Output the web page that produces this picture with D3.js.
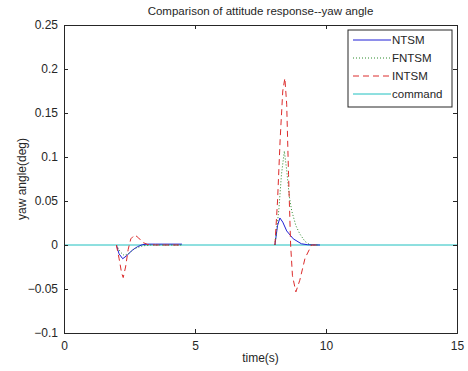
<!DOCTYPE html>
<html>
<head>
<meta charset="utf-8">
<script src="https://cdn.jsdelivr.net/npm/d3@7"></script>
<style>
  body { margin: 0; background: #fff; }
  text { font-family: Arial, "Liberation Sans", sans-serif; fill: #262626; }
</style>
</head>
<body>
<div id="chart"></div>
<script>
// series data (null = gap in series)
const ntsmTime   = [2.0, 2.1, 2.24, 2.4, 2.6, 2.8, 3.0, 3.2, 3.5, 4.5, null,
                    8.05, 8.15, 8.24, 8.35, 8.5, 8.75, 9.06, 9.3, 9.77];
const ntsmValues = [0, -0.010, -0.0156, -0.012, -0.006, -0.002, 0.0005, 0.001, 0.001, 0.001, null,
                    0, 0.022, 0.0307, 0.026, 0.016, 0.007, 0.0014, 0.0003, 0];

const fntsmTime   = [2.0, 2.15, 2.3, 2.5, 2.7, 3.0, 3.3, 4.5, null,
                     8.05, 8.2, 8.3, 8.41, 8.5, 8.6, 8.69, 8.85, 9.0, 9.2, 9.4, 9.7];
const fntsmValues = [0, -0.008, -0.012, -0.009, -0.004, -0.001, 0, 0, null,
                     0, 0.04, 0.08, 0.1068, 0.085, 0.055, 0.039, 0.022, 0.0126, 0.004, 0, 0];

const intsmTime   = [2.0, 2.1, 2.2, 2.26, 2.35, 2.45, 2.55, 2.7, 2.85, 3.0, 3.2, 3.5, 4.5, null,
                     8.05, 8.15, 8.25, 8.35, 8.43, 8.5, 8.57, 8.65, 8.72, 8.85, 9.0, 9.2, 9.45, 9.7];
const intsmValues = [0, -0.015, -0.032, -0.037, -0.025, -0.005, 0.007, 0.0115, 0.008, 0.003, 0.0005, 0, 0, null,
                     0, 0.05, 0.12, 0.175, 0.1896, 0.16, 0.08, 0, -0.035, -0.0533, -0.04, -0.015, 0, 0];

const commandTime   = [0, 15];
const commandValues = [0, 0];

const xTicks = [0, 5, 10, 15];
const yTicks = [-0.1, -0.05, 0, 0.05, 0.1, 0.15, 0.2, 0.25];
const legendNames = ['NTSM', 'FNTSM', 'INTSM', 'command'];

const sWidth = 468, sHeight = 371;
const margin = { top: 25, right: 11, bottom: 38, left: 64 };
const width = sWidth - margin.left - margin.right;
const height = sHeight - margin.top - margin.bottom;

const x = d3.scaleLinear().domain([0, 15]).range([0, width]);
const y = d3.scaleLinear().domain([-0.1, 0.25]).range([height, 0]);

const svg = d3.select('#chart').append('svg')
    .attr('width', sWidth)
    .attr('height', sHeight);
svg.append('rect').attr('width', sWidth).attr('height', sHeight).attr('fill', '#fff');

const g = svg.append('g')
    .attr('transform', 'translate(' + margin.left + ',' + margin.top + ')');

function zip(ts, vs) { return ts.map((t, i) => ({ t: t, v: vs[i] })); }

const series = [
  { name: 'NTSM', data: zip(ntsmTime, ntsmValues), color: '#1f1fd6', dash: null },
  { name: 'FNTSM', data: zip(fntsmTime, fntsmValues), color: '#2a8a2a', dash: '1,2' },
  { name: 'INTSM', data: zip(intsmTime, intsmValues), color: '#dc2c2c', dash: '6,4' },
  { name: 'command', data: zip(commandTime, commandValues), color: '#1fc0c0', dash: null }
];

const line = d3.line()
    .defined(d => d.t !== null && d.v !== null)
    .x(d => x(d.t))
    .y(d => y(d.v));

// clip to axes
g.append('clipPath').attr('id', 'clip')
  .append('rect').attr('width', width).attr('height', height);

const plot = g.append('g').attr('clip-path', 'url(#clip)');
// command first so the responses stay visible on it, as in the figure
[series[3], series[0], series[1], series[2]].forEach(s => {
  plot.append('path')
    .datum(s.data)
    .attr('d', line)
    .attr('fill', 'none')
    .attr('stroke', s.color)
    .attr('stroke-width', 1)
    .attr('stroke-dasharray', s.dash);
});

// axes with inward ticks on all sides
const tickSize = 4;
g.append('g')
  .attr('transform', 'translate(0,' + height + ')')
  .call(d3.axisBottom(x).tickValues(xTicks).tickSize(-tickSize).tickPadding(8).tickFormat(d3.format('d')));
g.append('g')
  .call(d3.axisTop(x).tickValues(xTicks).tickSize(-tickSize).tickFormat(''));
g.append('g')
  .call(d3.axisLeft(y).tickValues(yTicks).tickSize(-tickSize).tickPadding(6).tickFormat(d => d3.format('')(+d.toFixed(2))));
g.append('g')
  .attr('transform', 'translate(' + width + ',0)')
  .call(d3.axisRight(y).tickValues(yTicks).tickSize(-tickSize).tickFormat(''));

g.selectAll('.domain').attr('stroke', '#262626');
g.selectAll('.tick line').attr('stroke', '#262626');
g.selectAll('.tick text').style('font-size', '12px').attr('fill', '#262626');

// titles
svg.append('text')
  .attr('x', margin.left + width / 2)
  .attr('y', 15)
  .attr('text-anchor', 'middle')
  .style('font-size', '11.5px')
  .text('Comparison of attitude response--yaw angle');
svg.append('text')
  .attr('x', margin.left + width / 2)
  .attr('y', 362)
  .attr('text-anchor', 'middle')
  .style('font-size', '12px')
  .text('time(s)');
svg.append('text')
  .attr('transform', 'translate(26,' + (margin.top + height / 2) + ') rotate(-90)')
  .attr('text-anchor', 'middle')
  .style('font-size', '12px')
  .text('yaw angle(deg)');

// legend
const legend = svg.append('g').attr('transform', 'translate(348,30)');
legend.append('rect')
  .attr('width', 104).attr('height', 77)
  .attr('fill', '#fff').attr('stroke', '#262626');
legendNames.forEach((name, i) => {
  const s = series.find(d => d.name === name);
  const row = legend.append('g').attr('transform', 'translate(0,' + (10 + i * 18) + ')');
  row.append('line')
    .attr('x1', 5).attr('x2', 43).attr('y1', 0).attr('y2', 0)
    .attr('stroke', s.color).attr('stroke-width', 1)
    .attr('stroke-dasharray', s.dash);
  row.append('text')
    .attr('x', 44).attr('y', 4)
    .style('font-size', '11.5px')
    .text(name);
});
</script>
</body>
</html>
